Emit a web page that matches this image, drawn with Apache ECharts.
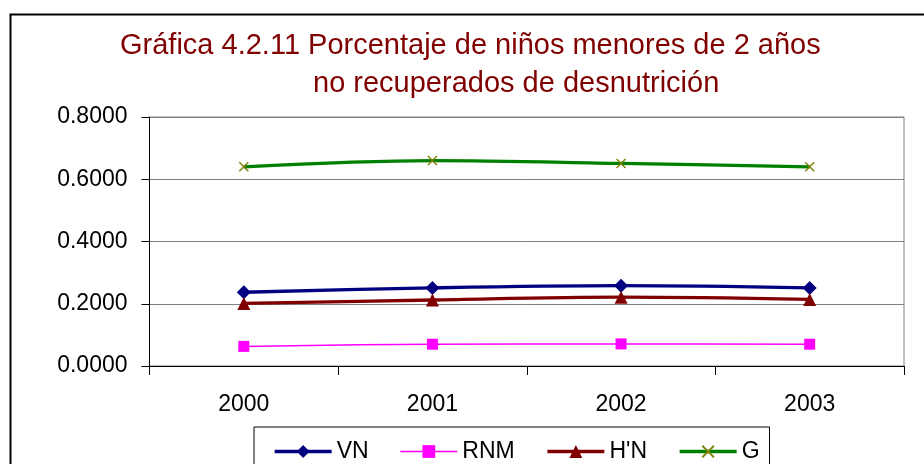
<!DOCTYPE html>
<html>
<head>
<meta charset="utf-8">
<title>Gráfica 4.2.11</title>
<script src="https://cdn.jsdelivr.net/npm/echarts@6/dist/echarts.min.js"></script>
<style>
  html, body { margin: 0; padding: 0; background: #fff; }
  #chart { width: 924px; height: 464px; }
</style>
</head>
<body>
<div id="chart"></div>
<script>
// datos
const years = ['2000', '2001', '2002', '2003']
const vn = [0.237, 0.251, 0.258, 0.251]
const rnm = [0.063, 0.070, 0.071, 0.070]
const hn = [0.201, 0.212, 0.221, 0.214]
const g = [0.640, 0.660, 0.651, 0.640]
const yTicks = [0, 0.2, 0.4, 0.6, 0.8]

const titleLine1 = 'Gráfica 4.2.11 Porcentaje de niños menores de 2 años'
const titleLine2 = 'no recuperados de desnutrición'

const font = "'Liberation Sans', Arial, sans-serif"
// marca en forma de X (como en Excel)
const crossPath = 'path://M0,1L1,0L5,4L9,0L10,1L6,5L10,9L9,10L5,6L1,10L0,9L4,5Z'

const chart = echarts.init(document.getElementById('chart'), null, { renderer: 'canvas' })

const lineSeries = (name, data, color, width, symbol, size, symbolColor) => ({
  name,
  type: 'line',
  data,
  smooth: 0.35,
  symbol,
  symbolSize: size,
  lineStyle: { color, width },
  itemStyle: { color: symbolColor || color },
  emphasis: { disabled: true },
  z: 3
})

chart.setOption({
  animation: false,
  textStyle: { fontFamily: font },
  title: [
    {
      text: titleLine1,
      left: 120,
      top: 31,
      padding: 0,
      textStyle: { fontFamily: font, fontSize: 29, fontWeight: 'normal', color: '#800000' }
    },
    {
      text: titleLine2,
      left: 313,
      top: 69,
      padding: 0,
      textStyle: { fontFamily: font, fontSize: 29, fontWeight: 'normal', color: '#800000' }
    }
  ],
  graphic: [
    {
      type: 'rect',
      left: 8,
      top: 12,
      z: -1,
      shape: { width: 1000, height: 1000 },
      style: { fill: 'none', stroke: '#000', lineWidth: 2 }
    }
  ],
  legend: {
    left: 254,
    top: 427,
    padding: [13, 10, 40, 19],
    itemGap: 31,
    itemWidth: 57,
    itemHeight: 16,
    borderColor: '#000',
    borderWidth: 1,
    backgroundColor: '#fff',
    textStyle: { fontFamily: font, fontSize: 23, color: '#000' },
    data: [
      { name: 'VN', lineStyle: { width: 3.3 } },
      { name: 'RNM', lineStyle: { width: 1.5 } },
      { name: "H'N", lineStyle: { width: 3.3 } },
      { name: 'G', lineStyle: { width: 3.3 } }
    ]
  },
  grid: {
    left: 149.5,
    right: 20,
    top: 117,
    bottom: 98,
    show: true,
    borderColor: '#808080',
    borderWidth: 1
  },
  xAxis: {
    type: 'category',
    data: years,
    boundaryGap: true,
    axisLine: { lineStyle: { color: '#000', width: 1 } },
    axisTick: { show: true, length: 9, lineStyle: { color: '#000' } },
    axisLabel: { fontFamily: font, fontSize: 23, color: '#000', margin: 27 },
    splitLine: { show: false }
  },
  yAxis: {
    type: 'value',
    min: yTicks[0],
    max: yTicks[yTicks.length - 1],
    interval: 0.2,
    axisLine: { show: true, lineStyle: { color: '#000', width: 1 } },
    axisTick: { show: true, length: 8, lineStyle: { color: '#000' } },
    axisLabel: {
      fontFamily: font,
      fontSize: 23,
      color: '#000',
      margin: 22,
      formatter: v => v.toFixed(4)
    },
    splitLine: { show: true, lineStyle: { color: '#808080', width: 1 } }
  },
  series: [
    lineSeries('VN', vn, '#000080', 3.3, 'diamond', 14),
    lineSeries('RNM', rnm, '#ff00ff', 1.5, 'rect', 11),
    lineSeries("H'N", hn, '#800000', 3.3, 'triangle', 13),
    lineSeries('G', g, '#008000', 3.3, crossPath, 10, '#808000')
  ]
})
</script>
</body>
</html>
